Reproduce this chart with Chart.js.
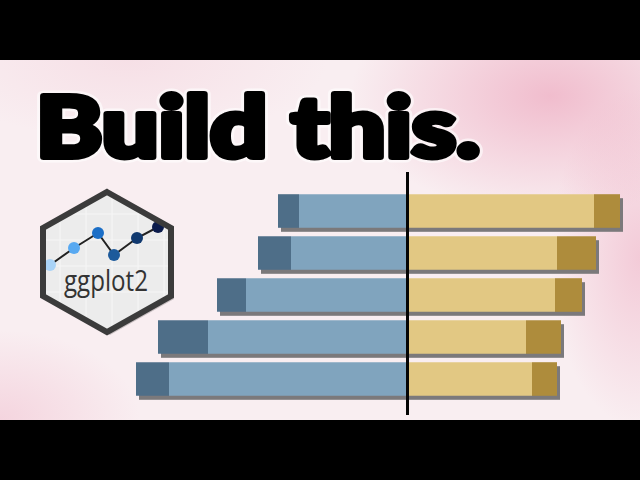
<!DOCTYPE html>
<html>
<head>
<meta charset="utf-8">
<script src="https://cdn.jsdelivr.net/npm/chart.js@4"></script>
<style>
  html, body { margin: 0; padding: 0; }
  body { width: 640px; height: 480px; background: #000; position: relative; overflow: hidden; }
  #paper {
    position: absolute; left: 0; top: 60px; width: 640px; height: 360px;
    background:
      radial-gradient(ellipse 200px 120px at 86% 10%, rgba(232,140,170,0.5), rgba(232,140,170,0) 100%),
      radial-gradient(ellipse 90px 170px at 100% 55%, rgba(236,160,185,0.45), rgba(236,160,185,0) 100%),
      radial-gradient(ellipse 140px 90px at 0% 100%, rgba(236,165,188,0.35), rgba(236,165,188,0) 100%),
      radial-gradient(ellipse 200px 80px at 20% 0%, rgba(240,190,205,0.3), rgba(240,190,205,0) 100%),
      #f9eef1;
  }
  #deco { position: absolute; left: 0; top: 0; }
  #wrap { position: absolute; left: 0; top: 0; width: 640px; height: 480px; }
</style>
</head>
<body>
<div id="paper"></div>
<svg id="deco" width="640" height="480" xmlns="http://www.w3.org/2000/svg">
  <defs>
    <clipPath id="hexClip">
      <polygon points="107,192 171,228 171,296 107,332 43,296 43,228"/>
    </clipPath>
  </defs>
  <!-- title: soft white halo, then heavy black text -->
  <text x="36" y="157" textLength="444" lengthAdjust="spacingAndGlyphs"
        font-family="Lato, 'Noto Sans', sans-serif" font-weight="900" font-size="84"
        fill="#fff" stroke="rgba(255,255,255,0.6)" stroke-width="11" stroke-linejoin="round">Build this.</text>
  <text x="36" y="157" textLength="444" lengthAdjust="spacingAndGlyphs"
        font-family="Lato, 'Noto Sans', sans-serif" font-weight="900" font-size="84"
        fill="#000" stroke="#000" stroke-width="6" stroke-linejoin="round">Build this.</text>
  <!-- ggplot2 hex logo -->
  <polygon points="110,195 174,231 174,299 110,335 46,299 46,231" fill="rgba(0,0,0,0.2)"/>
  <g clip-path="url(#hexClip)">
    <rect x="40" y="190" width="135" height="145" fill="#ececec"/>
    <g stroke="#f6f6f6" stroke-width="1.2">
      <line x1="40" y1="214" x2="175" y2="214"/>
      <line x1="40" y1="240" x2="175" y2="240"/>
      <line x1="40" y1="266" x2="175" y2="266"/>
      <line x1="40" y1="292" x2="175" y2="292"/>
      <line x1="60" y1="190" x2="60" y2="335"/>
      <line x1="86" y1="190" x2="86" y2="335"/>
      <line x1="112" y1="190" x2="112" y2="335"/>
      <line x1="138" y1="190" x2="138" y2="335"/>
      <line x1="164" y1="190" x2="164" y2="335"/>
    </g>
    <polyline points="50,265 74,248 98,233 114,255 137,238 158,227" fill="none" stroke="#222" stroke-width="2"/>
    <circle cx="50" cy="265" r="6" fill="#a9d3f7"/>
    <circle cx="74" cy="248" r="6" fill="#58a9f1"/>
    <circle cx="98" cy="233" r="6" fill="#1b6ec6"/>
    <circle cx="114" cy="255" r="6" fill="#1d5a9b"/>
    <circle cx="137" cy="238" r="6" fill="#10396f"/>
    <circle cx="158" cy="227" r="6" fill="#0b1b4b"/>
    <text x="106" y="291" text-anchor="middle" textLength="84" lengthAdjust="spacingAndGlyphs"
          font-family="'Open Sans', 'Noto Sans', sans-serif" font-size="30" fill="#333">ggplot2</text>
  </g>
  <polygon points="107,192 171,228 171,296 107,332 43,296 43,228" fill="none" stroke="#3b3b3b" stroke-width="6" stroke-linejoin="miter"/>
</svg>
<div id="wrap"><canvas id="chartCanvas" width="640" height="480"></canvas></div>
<script>
// rows, top to bottom
const categories = ["Row 1", "Row 2", "Row 3", "Row 4", "Row 5"];

// left side (negative direction from the centre line)
const leftLight = [-54, -58, -80.5, -99.5, -119];
const leftDark = [-10.5, -16.5, -14.5, -25, -16.5];

// right side
const rightLight = [93.5, 75, 74, 59.5, 62.5];
const rightDark = [13, 19.5, 13.5, 17.5, 12.5];

const xMin = -140;
const xMax = 110;

// flat grey drop shadow under every bar, then the centre line on top
const shadowAndLine = {
  id: "shadowAndLine",
  beforeDatasetsDraw(chart) {
    const ctx = chart.ctx;
    ctx.save();
    ctx.fillStyle = "#7b797b";
    chart.data.datasets.forEach((ds, i) => {
      chart.getDatasetMeta(i).data.forEach(bar => {
        const p = bar.getProps(["x", "y", "base", "height"], true);
        const left = Math.min(p.x, p.base);
        const w = Math.abs(p.x - p.base);
        ctx.fillRect(left + 3, p.y - p.height / 2 + 4, w, p.height);
      });
    });
    ctx.restore();
  },
  afterDatasetsDraw(chart) {
    const ctx = chart.ctx;
    const area = chart.chartArea;
    const x0 = Math.floor(chart.scales.x.getPixelForValue(0)) + 0.5;
    ctx.save();
    ctx.strokeStyle = "#050505";
    ctx.lineWidth = 3;
    ctx.beginPath();
    ctx.moveTo(x0, area.top - 18);
    ctx.lineTo(x0, area.bottom + 15);
    ctx.stroke();
    ctx.restore();
  }
};

const ctx = document.getElementById("chartCanvas").getContext("2d");
new Chart(ctx, {
  type: "bar",
  data: {
    labels: categories,
    datasets: [
      { label: "left light", data: leftLight, backgroundColor: "#80a4be" },
      { label: "left dark", data: leftDark, backgroundColor: "#4e6e88" },
      { label: "right light", data: rightLight, backgroundColor: "#e2c883" },
      { label: "right dark", data: rightDark, backgroundColor: "#ae8c3c" }
    ]
  },
  options: {
    indexAxis: "y",
    responsive: false,
    animation: false,
    events: [],
    layout: { padding: { left: 127, right: 13, top: 190, bottom: 80 } },
    datasets: {
      bar: { barPercentage: 0.8, categoryPercentage: 1, borderWidth: 0, borderSkipped: false }
    },
    scales: {
      x: { stacked: true, min: xMin, max: xMax, display: false },
      y: { stacked: true, display: false }
    },
    plugins: {
      legend: { display: false },
      tooltip: { enabled: false }
    }
  },
  plugins: [shadowAndLine]
});
</script>
</body>
</html>
